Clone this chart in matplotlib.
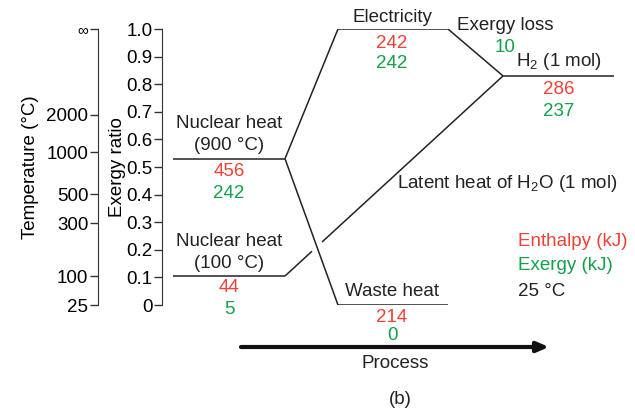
import matplotlib
matplotlib.use("Agg")
import matplotlib.pyplot as plt

plt.rcParams["font.family"] = ["Liberation Sans", "DejaVu Sans"]
plt.rcParams["mathtext.fontset"] = "custom"
plt.rcParams["mathtext.rm"] = "Liberation Sans"

RED = "#ef4136"
GREEN = "#12a14b"

# exergy ratio levels of each stage
nodes = ["Nuclear heat 900", "Nuclear heat 100", "Electricity", "H2", "Waste heat"]
levels = [0.53, 0.105, 1.0, 0.83, 0.0]
enthalpy = [456, 44, 242, 286, 214]
exergy = [242, 5, 242, 237, 0]

# temperature scale drawn beside the exergy ratio axis
temp_labels = ["25", "100", "300", "500", "1000", "2000", "\u221e"]
temp_pos = [0.0, 0.105, 0.297, 0.402, 0.554, 0.69, 1.0]
ratio_ticks = [0, 0.1, 0.2, 0.3, 0.4, 0.5, 0.6, 0.7, 0.8, 0.9, 1.0]
ratio_labels = ["0", "0.1", "0.2", "0.3", "0.4", "0.5", "0.6", "0.7", "0.8", "0.9", "1.0"]

lv = dict(zip(nodes, levels))
en = dict(zip(nodes, enthalpy))
ex = dict(zip(nodes, exergy))

fig = plt.figure(figsize=(6.35, 4.12), dpi=100)
ax = fig.add_axes([162 / 635, 1 - 305 / 412, 458 / 635, 276 / 412])
ax.set_xlim(162, 620)
ax.set_ylim(0, 1)

# x extents of the horizontal segments
left_a, left_b = 173, 285
mid_a, mid_b = 338, 448
right_a, right_b = 503, 614

lc = dict(color="#222222", lw=1.1, solid_capstyle="butt")
ax.plot([left_a, left_b], [lv["Nuclear heat 900"]] * 2, **lc)
ax.plot([left_a, left_b], [lv["Nuclear heat 100"]] * 2, **lc)
ax.plot([mid_a, mid_b], [lv["Electricity"]] * 2, **lc)
ax.plot([mid_a, mid_b], [lv["Waste heat"]] * 2, **lc)
ax.plot([right_a, right_b], [lv["H2"]] * 2, **lc)
ax.plot([left_b, mid_a], [lv["Nuclear heat 900"], lv["Electricity"]], **lc)
ax.plot([left_b, mid_a], [lv["Nuclear heat 900"], lv["Waste heat"]], **lc)
ax.plot([mid_b, right_a], [lv["Electricity"], lv["H2"]], **lc)

# latent heat line, broken where it passes the waste heat line
y0, y1 = lv["Nuclear heat 100"], lv["H2"]
def ly(x):
    return y0 + (y1 - y0) * (x - left_b) / (right_a - left_b)
ax.plot([left_b, 312], [y0, ly(312)], **lc)
ax.plot([322, right_a], [ly(322), y1], **lc)

fs = 13.5
def txt(x, y, s, c="#222222", ha="center"):
    ax.text(x, y, s, color=c, fontsize=fs, ha=ha, va="center")

def py(p):
    return (305 - p) / 276

txt(229, py(124), "Nuclear heat")
txt(229, py(145), "(900 \u00b0C)")
txt(229, py(172), str(en["Nuclear heat 900"]), RED)
txt(229, py(193), str(ex["Nuclear heat 900"]), GREEN)
txt(229, py(242), "Nuclear heat")
txt(229, py(263), "(100 \u00b0C)")
txt(229, py(288), str(en["Nuclear heat 100"]), RED)
txt(229, py(310), str(ex["Nuclear heat 100"]), GREEN)
txt(392, py(17), "Electricity")
txt(392, py(43), str(en["Electricity"]), RED)
txt(392, py(64), str(ex["Electricity"]), GREEN)
txt(505, py(25), "Exergy loss")
txt(505, py(48), str(ex["Electricity"] + ex["Nuclear heat 100"] - ex["H2"]), GREEN)
txt(559, py(61), "H$_2$ (1 mol)")
txt(559, py(90), str(en["H2"]), RED)
txt(559, py(112), str(ex["H2"]), GREEN)
txt(507, py(184), "Latent heat of H$_2$O (1 mol)")
txt(392, py(292), "Waste heat")
txt(392, py(318), str(en["Waste heat"]), RED)
txt(392, py(336), str(ex["Waste heat"]), GREEN)
txt(518, py(241), "Enthalpy (kJ)", RED, ha="left")
txt(518, py(266), "Exergy (kJ)", GREEN, ha="left")
txt(518, py(292), "25 \u00b0C", ha="left")

ax.annotate("", xy=(549, py(347)), xytext=(241, py(347)),
            arrowprops=dict(arrowstyle="-|>,head_length=0.7,head_width=0.3",
                            lw=3, color="#111111", shrinkA=0, shrinkB=0),
            annotation_clip=False)
txt(395, py(364), "Process")
txt(400, py(400), "(b)")

for s in ["top", "right", "bottom"]:
    ax.spines[s].set_visible(False)
ax.spines["left"].set_color("#333333")
ax.set_xticks([])
ax.set_yticks(ratio_ticks)
ax.set_yticklabels(ratio_labels, fontsize=fs)
ax.tick_params(axis="y", length=6, width=1, color="#333333", pad=1)
ax.set_ylabel("Exergy ratio", fontsize=fs, labelpad=0)

tax = ax.twinx()
tax.set_ylim(0, 1)
for s in ["top", "right", "bottom"]:
    tax.spines[s].set_visible(False)
tax.spines["left"].set_visible(True)
tax.spines["left"].set_position(("outward", 64 * 72 / 100))
tax.spines["left"].set_color("#333333")
tax.yaxis.set_ticks_position("left")
tax.yaxis.set_label_position("left")
tax.set_yticks(temp_pos)
tax.set_yticklabels(temp_labels, fontsize=fs)
tax.get_yticklabels()[-1].set_fontsize(11)
tax.tick_params(axis="y", length=6, width=1, color="#333333", pad=1)
tax.set_ylabel("Temperature (\u00b0C)", fontsize=fs, labelpad=5)

fig.savefig("out.png", dpi=100)
